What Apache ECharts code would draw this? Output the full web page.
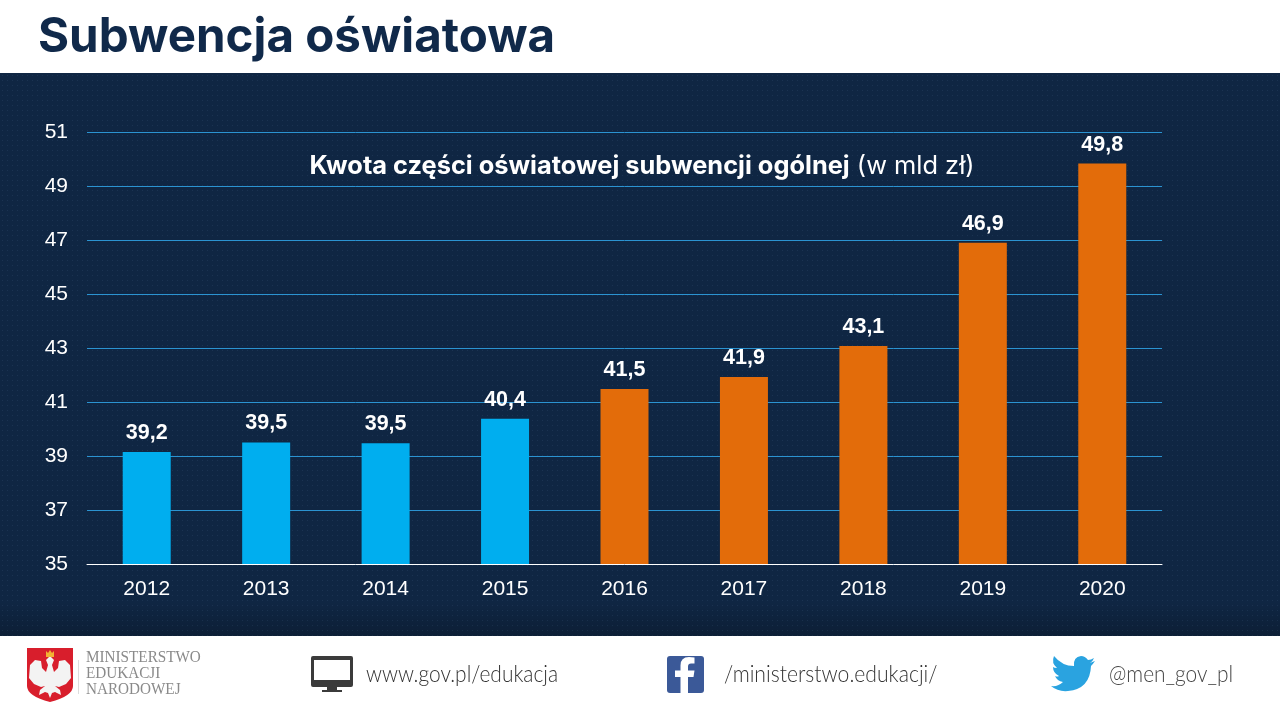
<!DOCTYPE html>
<html><head><meta charset="utf-8">
<script src="https://cdn.jsdelivr.net/npm/echarts@6/dist/echarts.min.js"></script>
<style>
html,body{margin:0;padding:0;background:#fff;width:1280px;height:720px;overflow:hidden}
#bg{position:absolute;left:0;top:73px;width:1280px;height:563px;background-color:#0f2643;
background-image:radial-gradient(circle at center,rgba(120,150,190,.12) 0.7px,transparent 1px),linear-gradient(to bottom,rgba(0,0,0,0) 94%,rgba(0,0,0,.2) 100%);
background-size:5px 5px,100% 100%}
#c{position:absolute;left:0;top:0;width:1280px;height:720px}
</style></head><body>
<div id="bg"></div><div id="c"></div>
<script>
const pageTitle = 'Subwencja oświatowa';
const chartTitleBold = 'Kwota części oświatowej subwencji ogólnej';
const chartTitleNormal = ' (w mld zł)';
const years = ['2012','2013','2014','2015','2016','2017','2018','2019','2020'];
const amounts = [39.2,39.5,39.5,40.4,41.5,41.9,43.1,46.9,49.8];
const barHeights = [39.15,39.5,39.47,40.38,41.48,41.93,43.07,46.9,49.83];
const blueCount = 4;
const BLUE='#00aeef', ORANGE='#e36c0a';
const FT='Lato, sans-serif';
const icons = [
  {d:'M27 648H73V686Q73 696 50 702Q27 696 27 686Z',fill:'#d81e2c'},
  {d:'M50 656L54 660L52 665L54 672L58 668L59 661L65 660L70 665L71 678L66 684L59 687L55 686L60 690L61 695L55 692L52 693L50 698L48 693L45 692L39 695L40 690L45 686L41 687L34 684L29 678L30 665L35 660L41 661L42 668L46 672L48 665L46 660Z',fill:'#f3f3f3'},
  {d:'M46 651L48 653L50 650L52 653L54 651L54 657H46Z',fill:'#f2b233'},
  {d:'M313 656H351Q353 656 353 658V685Q353 687 351 687H337V690H342V692H322V690H327V687H313Q311 687 311 685V658Q311 656 313 656ZM314 660V680H350V660Z',fill:'#3b3b3b'},
  {d:'M670 656H701Q704 656 704 659V690Q704 693 701 693H670Q667 693 667 690V659Q667 656 670 656Z',fill:'#3b5998'},
  {d:'M688 693V677H693.5L694.5 670.5H688V666.5Q688 663.5 691 663.5H694.5V657.5Q692 657 689 657Q680.5 657 680.5 665.5V670.5H675V677H680.5V693Z',fill:'#fff'},
  {d:'M1095 661Q1092 662 1090 663Q1093 661 1094 658Q1091 660 1088 660Q1085 656 1081 656Q1073 657 1074 666Q1062 666 1054 656Q1051 663 1057 668Q1054 668 1053 667Q1053 673 1059 676Q1057 677 1055 676Q1057 681 1063 682Q1058 687 1051 686Q1058 692 1068 691Q1090 689 1091 666Q1093 664 1095 661Z',fill:'#2aa3e0'}
];
const chart = echarts.init(document.getElementById('c'));
chart.setOption({
  backgroundColor:'transparent',
  animation:false,
  title:{
    text:'{b|'+chartTitleBold+'}{n|'+chartTitleNormal+'}',
    left:637,top:149,textAlign:'center',
    textStyle:{rich:{
      b:{fontFamily:'Inter, sans-serif',fontWeight:700,fontSize:25.4,color:'#fff'},
      n:{fontFamily:'Inter, sans-serif',fontWeight:400,fontSize:25.4,color:'#fff'}
    }}
  },
  grid:{left:87,right:118,top:132,bottom:156},
  xAxis:{type:'category',data:years,
    axisLine:{lineStyle:{color:'#ffffff',width:1}},axisTick:{show:false},
    axisLabel:{color:'#fff',fontFamily:'Liberation Sans',fontSize:21,margin:15}},
  yAxis:{type:'value',min:35,max:51,interval:2,
    axisLine:{show:false},axisTick:{show:false},
    splitLine:{lineStyle:{color:'#2b93d1',width:1}},
    axisLabel:{color:'#fff',fontFamily:'Liberation Sans',fontSize:21,margin:19}},
  series:[{type:'bar',barWidth:48,
    data:barHeights.map((v,i)=>({value:v,itemStyle:{color:i<blueCount?BLUE:ORANGE},
      label:{formatter:amounts[i].toFixed(1).replace('.',',')}})),
    label:{show:true,position:'top',distance:8,color:'#fff',fontFamily:'Liberation Sans',fontWeight:'bold',fontSize:21.5}
  },{
    type:'custom',coordinateSystem:'none',silent:true,data:[0],
    renderItem:()=>({type:'group',children:icons.map(ic=>({type:'path',shape:{pathData:ic.d},style:{fill:ic.fill}}))})
  }],
  graphic:[
    {type:'text',x:38,y:14,style:{text:pageTitle,fontFamily:'Inter, sans-serif',fontWeight:700,fontSize:47.5,fill:'#10294a'}},
    {type:'rect',shape:{x:78,y:660,width:1,height:34},style:{fill:'#dddddd'}},
    {type:'text',x:86,y:650,scaleX:.95,style:{text:'MINISTERSTWO',fontFamily:'Liberation Serif',fontSize:16,fill:'#8a8a8a'}},
    {type:'text',x:86,y:666,scaleX:.95,style:{text:'EDUKACJI',fontFamily:'Liberation Serif',fontSize:16,fill:'#8a8a8a'}},
    {type:'text',x:86,y:682,scaleX:.95,style:{text:'NARODOWEJ',fontFamily:'Liberation Serif',fontSize:16,fill:'#8a8a8a'}},
    {type:'text',x:366,y:663,scaleX:.93,style:{text:'www.gov.pl/edukacja',fontFamily:FT,fontWeight:300,fontSize:22.5,fill:'#333'}},
    {type:'text',x:724,y:663,scaleX:.94,style:{text:'/ministerstwo.edukacji/',fontFamily:FT,fontWeight:300,fontSize:22.5,fill:'#333'}},
    {type:'text',x:1109,y:663,scaleX:.93,style:{text:'@men_gov_pl',fontFamily:FT,fontWeight:300,fontSize:22.5,fill:'#444'}}
  ]
});
</script></body></html>
